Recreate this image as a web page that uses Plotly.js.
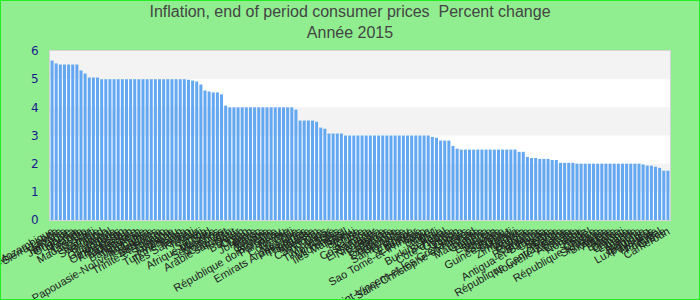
<!DOCTYPE html>
<html>
<head>
<meta charset="utf-8">
<script src="https://cdn.plot.ly/plotly-3.0.1.min.js"></script>
<style>
html,body{margin:0;padding:0;background:#90ee90;}
#chart{width:700px;height:300px;}
#frame{position:fixed;left:0;top:0;width:700px;height:300px;box-sizing:border-box;border:1px solid #22ee22;pointer-events:none;}
</style>
</head>
<body>
<div id="chart"></div>
<div id="frame"></div>
<script>
const titleLine1 = "Inflation, end of period consumer prices  Percent change";
const titleLine2 = "Année 2015";

const countries = [
"Mozambique","Sierra Leone","Zambie","Tanzanie","Jamaïque","Ouganda","Kenya","Rwanda","Lesotho","Madagascar",
"Haïti","Namibie","Swaziland","Bhoutan","Népal","Guatemala","Honduras","Ouzbékistan","Kirghizistan","Tadjikistan",
"Mongolie","Bangladesh","Indonésie","Sri Lanka","Papouasie-Nouvelle-Guinée","Maldives","Botswana","Trinité-et-Tobago","Guyana","Suriname",
"Vanuatu","Turkménistan","Tonga","Îles Salomon","Kiribati","Tuvalu","Fidji","Samoa","Afrique du Sud","Maurice",
"Seychelles","Comores","Cap-Vert","Arabie saoudite","Koweït","Qatar","Bahreïn","Oman","Liban","Jordanie",
"Maroc","Tunisie","Géorgie","Arménie","République dominicaine","Paraguay","Pérou","Colombie","Chili","Mexique",
"Emirats Arabes Unis","Philippines","Thaïlande","Malaisie","Vietnam","Cambodge","Laos","Myanmar","Timor-Leste","Palaos",
"Micronésie","Îles Marshall","Nauru","Brunei","Chine","Corée","Costa Rica","Panama","El Salvador","Nicaragua",
"Belize","Bahamas","Barbade","Dominique","Grenade","Sainte-Lucie","Uruguay","Bolivie","Équateur","Sao Tomé-et-Principe",
"Togo","Bénin","Niger","Mali","Burkina Faso","Sénégal","Côte d'Ivoire","Guinée","Gabon","Congo",
"Saint-Vincent-et-les Grenadines","Saint-Christophe-et-Niévès","Tchad","Mauritanie","Gambie","Libéria","Érythrée","Soudan","Éthiopie","Somalie",
"Guinée-Bissau","Burundi","Malawi","Zimbabwe","Angola","Hongrie","Pologne","Roumanie","Bulgarie","Antigua-et-Barbuda",
"Croatie","Serbie","Albanie","Islande","République Centrafricaine","Nouvelle-Zélande","Australie","Canada","Norvège","Suède",
"Israël","Chypre","République tchèque","Slovaquie","Slovénie","Algérie","Malte","Estonie","Djibouti","Lettonie",
"Lituanie","Irlande","Autriche","Belgique","Luxembourg","Pays-Bas","Finlande","Portugal","Grèce","Cameroun"
];

const inflation = [
5.66,5.56,5.52,5.52,5.52,5.52,5.52,5.31,5.2,5.06,
5.06,5.06,5.0,5.0,5.0,5.0,5.0,5.0,5.0,5.0,
5.0,5.0,5.0,5.0,5.0,5.0,5.0,5.0,5.0,5.0,
5.0,5.0,5.0,4.98,4.95,4.92,4.81,4.6,4.56,4.53,
4.53,4.46,4.06,4.0,4.0,4.0,4.0,4.0,4.0,4.0,
4.0,4.0,4.0,4.0,4.0,4.0,4.0,4.0,4.0,3.92,
3.53,3.53,3.53,3.53,3.49,3.28,3.24,3.07,3.07,3.07,
3.07,3.0,3.0,3.0,3.0,3.0,3.0,3.0,3.0,3.0,
3.0,3.0,3.0,3.0,3.0,3.0,3.0,3.0,3.0,3.0,
3.0,3.0,2.95,2.92,2.82,2.82,2.82,2.63,2.53,2.5,
2.5,2.5,2.5,2.5,2.5,2.5,2.5,2.5,2.5,2.5,
2.5,2.5,2.5,2.42,2.42,2.24,2.2,2.2,2.17,2.17,
2.17,2.13,2.13,2.03,2.03,2.03,2.03,2.0,2.0,2.0,
2.0,2.0,2.0,2.0,2.0,2.0,2.0,2.0,2.0,2.0,
2.0,2.0,2.0,1.97,1.93,1.93,1.89,1.85,1.75,1.75
];

const yTicks = [0,1,2,3,4,5,6];
const bands = [[1,2],[3,4],[5,6]];

const shapes = bands.map(b => ({
  type:'rect', xref:'paper', yref:'y', x0:0, x1:1, y0:b[0], y1:b[1],
  fillcolor:'#f3f3f3', line:{width:0}, layer:'below'
}));

const trace = {
  type:'bar',
  x: countries,
  y: inflation,
  marker:{color:'#64a8f2'},
  hoverinfo:'x+y'
};

const layout = {
  width:700, height:300,
  paper_bgcolor:'#90ee90',
  plot_bgcolor:'#ffffff',
  margin:{l:50, r:30, t:51, b:80, pad:0},
  bargap:0.27,
  showlegend:false,
  title:{
    text: titleLine1 + '<br>' + titleLine2,
    font:{family:'Liberation Sans, Arial, sans-serif', size:16, color:'#444444'},
    x:0.5, xanchor:'center',
    y:0.943, yanchor:'top', yref:'container'
  },
  xaxis:{
    type:'category',
    tickmode:'linear', dtick:1,
    tickangle:-30,
    tickfont:{family:'Liberation Sans, Arial, sans-serif', size:11, color:'#222222'},
    showgrid:false, zeroline:false,
    showline:true, mirror:true, linecolor:'#d4d4d4', linewidth:1,
    ticks:'', automargin:false
  },
  yaxis:{
    range:[0,6],
    tickvals: yTicks,
    ticktext: yTicks.map(String),
    tickfont:{family:'DejaVu Sans, sans-serif', size:12, color:'#1a1a8e'},
    showgrid:false, zeroline:false,
    showline:true, mirror:true, linecolor:'#d4d4d4', linewidth:1,
    ticks:'', ticklabelstandoff:8, automargin:false
  },
  shapes: shapes
};

Plotly.newPlot('chart', [trace], layout, {displayModeBar:false, staticPlot:true});
</script>
</body>
</html>
